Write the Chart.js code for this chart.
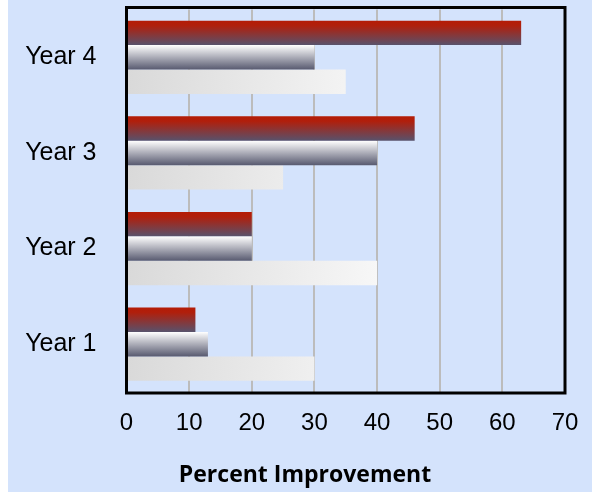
<!DOCTYPE html>
<html>
<head>
<meta charset="utf-8">
<script src="https://cdn.jsdelivr.net/npm/chart.js@4"></script>
<style>
  html, body { margin: 0; padding: 0; background: #ffffff; }
  #wrap { position: absolute; left: 8px; top: 0; width: 584px; height: 492px; background: #d4e3fc; }
</style>
</head>
<body>
<div id="wrap"><canvas id="improve-chart"></canvas></div>
<script>
// chart values
const years = ['Year 4', 'Year 3', 'Year 2', 'Year 1'];
const seriesRed = [63, 46, 20, 11];
const seriesGray = [30, 40, 20, 13];
const seriesLight = [35, 25, 40, 30];
const xTicks = [0, 10, 20, 30, 40, 50, 60, 70];

const CAT_PCT = 0.765;

// builds a gradient for one bar, using the y scale to find where the bar sits
function barFill(kind, fallback) {
    return function (context) {
        const chart = context.chart;
        const area = chart.chartArea;
        const yScale = chart.scales.y;
        if (!area || !yScale || context.dataIndex === undefined) return fallback;
        const c = chart.ctx;
        const center = yScale.getPixelForValue(context.dataIndex);
        const catSize = (area.bottom - area.top) / years.length;
        const thick = catSize * CAT_PCT / 3;
        const top = center - catSize * CAT_PCT / 2 + context.datasetIndex * thick;
        let g;
        if (kind === 'light') {
            g = c.createLinearGradient(area.left, top, area.left + 300, top + thick);
            g.addColorStop(0, '#d9d9d9');
            g.addColorStop(1, '#fdfdfd');
        } else if (kind === 'red') {
            g = c.createLinearGradient(0, top, 0, top + thick);
            g.addColorStop(0, '#b41c06');
            g.addColorStop(0.2, '#b01f0c');
            g.addColorStop(1, '#58526c');
        } else {
            g = c.createLinearGradient(0, top, 0, top + thick);
            g.addColorStop(0, '#ffffff');
            g.addColorStop(1, '#585a70');
        }
        return g;
    };
}

// black frame round the plot area
const frame = {
    id: 'frame',
    afterDraw(chart) {
        const a = chart.chartArea;
        const c = chart.ctx;
        c.save();
        c.strokeStyle = '#000000';
        c.lineWidth = 3;
        c.strokeRect(a.left, a.top - 2, a.right - a.left, a.bottom - a.top + 3);
        c.restore();
    }
};

const ctx = document.getElementById('improve-chart').getContext('2d');
const improveChart = new Chart(ctx, {
    type: 'bar',
    data: {
        labels: years,
        datasets: [
            { label: 'Series 1', data: seriesRed, backgroundColor: barFill('red', '#8a3030') },
            { label: 'Series 2', data: seriesGray, backgroundColor: barFill('gray', '#a0a0b0') },
            { label: 'Series 3', data: seriesLight, backgroundColor: barFill('light', '#eeeeee') }
        ]
    },
    options: {
        indexAxis: 'y',
        responsive: true,
        maintainAspectRatio: false,
        animation: false,
        layout: { padding: { top: 9.5, right: 0, left: 10, bottom: 0 } },
        datasets: {
            bar: { categoryPercentage: CAT_PCT, barPercentage: 1.0, borderWidth: 0 }
        },
        plugins: {
            legend: { display: false },
            tooltip: { enabled: false },
            title: {
                display: true,
                position: 'bottom',
                text: 'Percent Improvement',
                color: '#000000',
                padding: { top: 8, bottom: 3 },
                font: { family: 'Open Sans', size: 23, weight: 'bold', lineHeight: 1.2 }
            }
        },
        scales: {
            x: {
                min: 0,
                max: 70,
                afterBuildTicks(scale) {
                    scale.ticks = xTicks.map(v => ({ value: v }));
                },
                afterFit(scale) {
                    scale.height = 61.4;
                    scale.paddingRight = 27;
                },
                grid: { color: '#bcbcbc', lineWidth: 2, drawTicks: false },
                border: { display: false },
                ticks: {
                    color: '#000000',
                    padding: 17,
                    font: { family: 'Liberation Sans', size: 24 }
                }
            },
            y: {
                afterFit(scale) {
                    scale.width = 108.5;
                    scale.paddingTop = 0;
                    scale.paddingBottom = 0;
                },
                grid: { display: false, drawTicks: false },
                border: { display: false },
                ticks: {
                    color: '#000000',
                    padding: 30,
                    font: { family: 'Liberation Sans', size: 25 }
                }
            }
        }
    },
    plugins: [frame]
});
</script>
</body>
</html>
